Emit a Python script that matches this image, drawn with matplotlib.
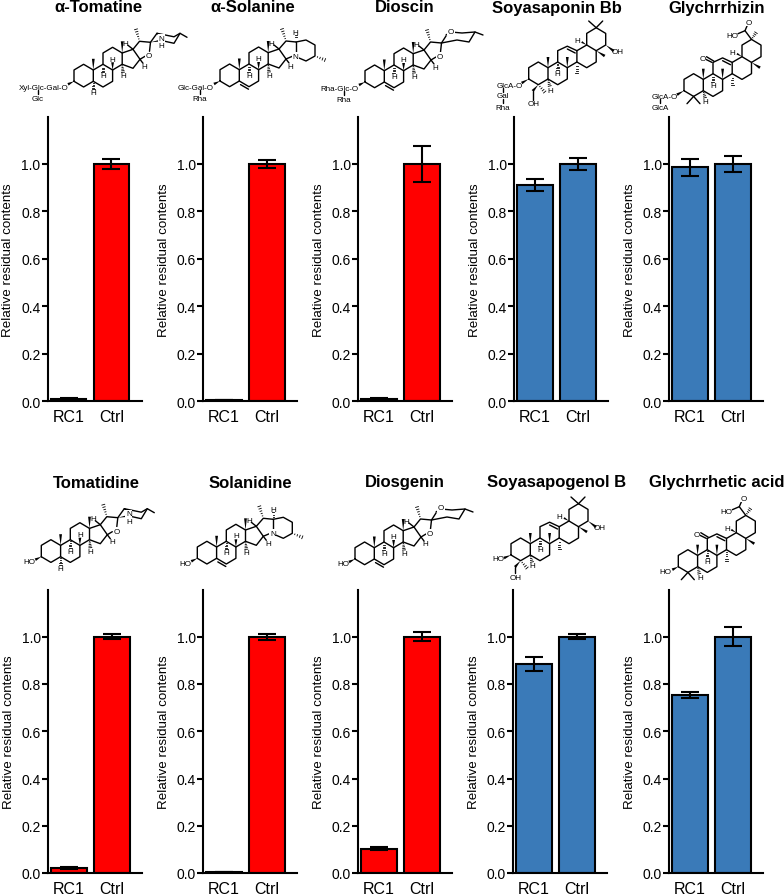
#!/usr/bin/env python
import matplotlib
matplotlib.use('Agg')
import matplotlib.pyplot as plt
from matplotlib.patches import Polygon

plt.rcParams['font.family'] = ['Liberation Sans', 'DejaVu Sans']

W, H = 784, 895

### ------------------- Data -------------------
groups = ['RC1', 'Ctrl']
titles_top = ['α-Tomatine', 'α-Solanine', 'Dioscin', 'Soyasaponin Bb', 'Glychrrhizin']
titles_bot = ['Tomatidine', 'Solanidine', 'Diosgenin', 'Soyasapogenol B', 'Glychrrhetic acid']

rc1_top = [0.010, 0.005, 0.010, 0.910, 0.985]
rc1_top_err = [0.002, 0.001, 0.002, 0.025, 0.035]
ctrl_top = [1.0, 1.0, 1.0, 1.0, 1.0]
ctrl_top_err = [0.020, 0.018, 0.075, 0.025, 0.035]

rc1_bot = [0.022, 0.005, 0.103, 0.885, 0.755]
rc1_bot_err = [0.003, 0.001, 0.005, 0.030, 0.013]
ctrl_bot = [1.0, 1.0, 1.0, 1.0, 1.0]
ctrl_bot_err = [0.010, 0.012, 0.020, 0.010, 0.040]

yticks = [0.0, 0.2, 0.4, 0.6, 0.8, 1.0]
red = '#FF0000'
blue = '#3A7AB8'

### ------------------- Functions -------------------

def panel(left, top, bottom, title, title_x, title_y, vals, errs, color):
    ax = fig.add_axes([left / W, 1 - bottom / H, 94 / W, (bottom - top) / H])
    ax.bar([0, 1], vals, width=0.83, color=color, edgecolor='k', linewidth=1.5, zorder=2)
    ax.errorbar([0, 1], vals, yerr=errs, fmt='none', ecolor='k', elinewidth=1.5,
                capsize=6.8, capthick=1.5, zorder=3, clip_on=False)
    ax.set_xlim(-0.49, 1.70)
    ax.set_ylim(0, 1.2)
    ax.set_yticks(yticks)
    ax.set_yticklabels(['%.1f' % t for t in yticks], fontsize=10)
    ax.set_xticks([0, 1])
    ax.set_xticklabels(groups, fontsize=11.5)
    ax.tick_params(axis='x', length=0, pad=5.5)
    ax.tick_params(axis='y', length=4.5, width=1.5, pad=0.5)
    ax.spines['top'].set_visible(False)
    ax.spines['right'].set_visible(False)
    ax.spines['left'].set_linewidth(1.5)
    ax.spines['bottom'].set_linewidth(1.5)
    ax.set_ylabel('Relative residual contents', fontsize=9.6, labelpad=5)
    fig.text(title_x / W, 1 - title_y / H, title, fontsize=12, fontweight='bold',
             ha='center', va='center')
    return ax


def bonds(ox, oy, pts, closed=False):
    xs = [ox + p[0] for p in pts]
    ys = [oy + p[1] for p in pts]
    if closed:
        xs.append(xs[0])
        ys.append(ys[0])
    mol.plot(xs, ys, color='k', lw=1.0, solid_capstyle='round', solid_joinstyle='round')


def wedge(ox, oy, a, b, w=1.4):
    dx, dy = b[0] - a[0], b[1] - a[1]
    n = (dx ** 2 + dy ** 2) ** 0.5
    nx, ny = -dy / n * w, dx / n * w
    mol.add_patch(Polygon([(ox + a[0], oy + a[1]), (ox + b[0] + nx, oy + b[1] + ny),
                           (ox + b[0] - nx, oy + b[1] - ny)], color='k', lw=0))


def hashed(ox, oy, a, b, n=5, w=1.5):
    dx, dy = b[0] - a[0], b[1] - a[1]
    L = (dx ** 2 + dy ** 2) ** 0.5
    nx, ny = -dy / L, dx / L
    for i in range(1, n + 1):
        f = i / n
        cx, cy = a[0] + dx * f, a[1] + dy * f
        hw = w * f
        mol.plot([ox + cx + nx * hw, ox + cx - nx * hw], [oy + cy + ny * hw, oy + cy - ny * hw],
                 color='k', lw=0.6)


def atom(x, y, s, ha='center', bg=False):
    t = mol.text(x, y, s, fontsize=5.8, ha=ha, va='center', color='k', zorder=5)
    if bg:
        t.set_bbox(dict(facecolor='white', edgecolor='none', pad=0.4))


def steroid_core(ox, oy, c5h=False, ene=False):
    bonds(ox, oy, [(0, 0), (0, -11.3), (9.6, -17), (19.3, -11.3), (19.3, 0), (9.6, 5.7)], closed=True)
    bonds(ox, oy, [(19.3, 0), (29, 5.7), (38.6, 0), (38.6, -11.3), (29, -17), (19.3, -11.3)])
    bonds(ox, oy, [(29, -17), (29, -28.3), (38.6, -34), (48.2, -28.3), (48.2, -17), (38.6, -11.3)])
    bonds(ox, oy, [(48.2, -17), (59, -13), (66, -22), (59, -32), (48.2, -28.3)])
    wedge(ox, oy, (19.3, -11.3), (19.3, -22.5))
    wedge(ox, oy, (48.2, -28.3), (48.2, -40))
    hashed(ox, oy, (29, -17), (29, -9))
    atom(ox + 29, oy - 5.5, 'H')
    wedge(ox, oy, (38.6, -11.3), (38.6, -19))
    atom(ox + 38.6, oy - 22.3, 'H')
    hashed(ox, oy, (48.2, -17), (49, -9))
    atom(ox + 49.3, oy - 5.5, 'H')
    bonds(ox, oy, [(59, -32), (54, -36)])
    atom(ox + 51.5, oy - 38, 'H')
    bonds(ox, oy, [(66, -22), (69, -18)])
    atom(ox + 70.5, oy - 15, 'H')
    if c5h:
        hashed(ox, oy, (19.3, 0), (19.3, 8))
        atom(ox + 19.3, oy + 11.5, 'H')
    if ene:
        bonds(ox, oy, [(20.5, 3.6), (28.5, 8.2)])


def spiro_common(ox, oy):
    bonds(ox, oy, [(59, -32), (65.5, -40), (76.5, -39), (75.5, -30)])
    bonds(ox, oy, [(66, -22), (71, -25)])
    atom(ox + 75, oy - 25.7, 'O', bg=True)
    hashed(ox, oy, (65.5, -40), (62, -52))


def tomatine_tail(ox, oy):
    spiro_common(ox, oy)
    bonds(ox, oy, [(76.5, -39), (83, -48), (100, -44.5), (106, -48), (113, -44)])
    bonds(ox, oy, [(83, -48), (88, -45)])
    bonds(ox, oy, [(106, -48), (100, -38), (91, -40)])
    wedge(ox, oy, (76.5, -39), (85, -40.5), w=0.8)
    atom(ox + 87.5, oy - 43, 'N', bg=True)
    atom(ox + 87.5, oy - 35.5, 'H')


def dioscin_tail(ox, oy):
    spiro_common(ox, oy)
    bonds(ox, oy, [(81, -47), (86, -50), (97, -49), (110, -50), (118, -47)])
    bonds(ox, oy, [(76.5, -39), (81, -46)])
    bonds(ox, oy, [(110, -50), (104, -40), (92, -42), (76.5, -39)])
    atom(ox + 86, oy - 51, 'O', bg=True)


def solanine_tail(ox, oy):
    bonds(ox, oy, [(59, -32), (66, -40), (76, -39)])
    hashed(ox, oy, (66, -40), (62, -52))
    bonds(ox, oy, [(66, -22), (73, -25)])
    bonds(ox, oy, [(76, -39), (76, -29)])
    bonds(ox, oy, [(76, -39), (86, -41), (95, -36), (95, -25), (86, -20), (79, -23)])
    hashed(ox, oy, (95, -25), (105, -21), n=4)
    hashed(ox, oy, (76, -39), (76, -46), n=3, w=1)
    atom(ox + 75.5, oy - 49, 'H')
    atom(ox + 75.5, oy - 25, 'N', bg=True)


def triterpene_core(ox, oy):
    bonds(ox, oy, [(0, 0), (0, -11.3), (9.6, -17), (19.3, -11.3), (19.3, 0), (9.6, 5.7)], closed=True)
    bonds(ox, oy, [(19.3, 0), (29, 5.7), (38.6, 0), (38.6, -11.3), (29, -17), (19.3, -11.3)])
    bonds(ox, oy, [(29, -17), (29, -28.3), (38.6, -32.8), (48.2, -28.3), (48.2, -17), (38.6, -11.3)])
    bonds(ox, oy, [(48.2, -17), (58, -11.3), (67.5, -17), (67.5, -28.3), (58, -34), (48.2, -28.3)])
    bonds(ox, oy, [(58, -34), (58, -45.6), (67.5, -51.3), (77, -45.6), (77, -34), (67.5, -28.3)])
    bonds(ox, oy, [(38.6, -30), (46.5, -26)])
    wedge(ox, oy, (19.3, -11.3), (19.3, -22))
    wedge(ox, oy, (38.6, -11.3), (38.6, -22))
    hashed(ox, oy, (48.2, -17), (48.2, -6))
    hashed(ox, oy, (29, -17), (29, -9))
    atom(ox + 29, oy - 5.5, 'H')
    wedge(ox, oy, (67.5, -28.3), (76, -23))
    wedge(ox, oy, (58, -34), (53, -37), w=1)
    atom(ox + 48.5, oy - 38.5, 'H')
    hashed(ox, oy, (19.3, 0), (21, 7), n=4)
    atom(ox + 21.5, oy + 11, 'H')


### ------------------- Plot -------------------
fig = plt.figure(figsize=(W / 100, H / 100), dpi=100)

lefts_top = [47.5, 203, 358, 514, 669]
lefts_bot = [48, 203, 358, 513, 669]
titles_x_top = [98, 253, 405, 557, 717]
titles_x_bot = [96, 250, 405, 557, 717]
colors = [red, red, red, blue, blue]

for i in range(5):
    panel(lefts_top[i], 117.5, 402, titles_top[i], titles_x_top[i], 8,
          [rc1_top[i], ctrl_top[i]], [rc1_top_err[i], ctrl_top_err[i]], colors[i])
    panel(lefts_bot[i], 590.5, 874, titles_bot[i], titles_x_bot[i], 483,
          [rc1_bot[i], ctrl_bot[i]], [rc1_bot_err[i], ctrl_bot_err[i]], colors[i])

# overlay in pixel units for the structures
mol = fig.add_axes([0, 0, 1, 1], facecolor='none')
mol.set_xlim(0, W)
mol.set_ylim(H, 0)
mol.axis('off')

# top row
ox, oy = 74, 82.3
steroid_core(ox, oy, c5h=True)
tomatine_tail(ox, oy)
wedge(ox, oy, (0, 0), (-6, 3))
atom(19, 88, 'Xyl-Glc-Gal-O', ha='left')
bonds(38, 91, [(0, 0), (0, 4)])
atom(38, 99.5, 'Glc')

ox, oy = 220, 82
steroid_core(ox, oy, ene=True)
solanine_tail(ox, oy)
wedge(ox, oy, (0, 0), (-6, 3))
atom(178, 88, 'Glc-Gal-O', ha='left')
bonds(200, 91, [(0, 0), (0, 4)])
atom(200, 99.5, 'Rha')

ox, oy = 365, 83
steroid_core(ox, oy, ene=True)
dioscin_tail(ox, oy)
wedge(ox, oy, (0, 0), (-6, 3))
atom(320, 89, 'Rha-Glc-O', ha='left')
bonds(344, 92, [(0, 0), (0, 4)])
atom(344, 100.5, 'Rha')

ox, oy = 528.7, 80
triterpene_core(ox, oy)
bonds(ox, oy, [(67.5, -51.3), (60, -58)])
bonds(ox, oy, [(67.5, -51.3), (74, -58)])
wedge(ox, oy, (77, -34), (85, -28))
atom(ox + 89, oy - 28, 'OH')
wedge(ox, oy, (9.6, 5.7), (4, 12))
bonds(ox, oy, [(4, 12), (4, 21)])
atom(ox + 5, oy + 24.5, 'OH')
hashed(ox, oy, (9.6, 5.7), (16, 13), n=4)
wedge(ox, oy, (0, 0), (-7, 4))
atom(497, 86, 'GlcA-O', ha='left')
bonds(503, 89, [(0, 0), (0, 3.5)])
atom(503, 96.5, 'Gal')
bonds(503, 100, [(0, 0), (0, 3.5)])
atom(503, 108, 'Rha')

ox, oy = 684, 91.7
triterpene_core(ox, oy)
bonds(ox, oy, [(28, -28.3), (20.5, -32)])
bonds(ox, oy, [(30, -29.5), (22.5, -34)])
atom(ox + 18.5, oy - 32.5, 'O', bg=True)
bonds(ox, oy, [(67.5, -51.3), (61, -60), (64, -67)])
atom(ox + 65, oy - 68.5, 'O', bg=True)
bonds(ox, oy, [(61, -60), (54, -57)])
atom(ox + 48, oy - 55.5, 'HO')
hashed(ox, oy, (67.5, -51.3), (72, -58), n=4)
bonds(ox, oy, [(9.6, 5.7), (3, 13)])
bonds(ox, oy, [(9.6, 5.7), (16, 13)])
wedge(ox, oy, (0, 0), (-7, 4))
atom(652, 97, 'GlcA-O', ha='left')
bonds(660, 100, [(0, 0), (0, 3.5)])
atom(660, 108, 'GlcA')

# bottom row
ox, oy = 41.3, 557.7
steroid_core(ox, oy, c5h=True)
tomatine_tail(ox, oy)
wedge(ox, oy, (0, 0), (-6, 3))
atom(ox - 12, oy + 5, 'HO')

ox, oy = 197.3, 559.3
steroid_core(ox, oy, ene=True)
solanine_tail(ox, oy)
wedge(ox, oy, (0, 0), (-6, 3))
atom(ox - 12, oy + 5, 'HO')

ox, oy = 355, 560
steroid_core(ox, oy, ene=True)
dioscin_tail(ox, oy)
wedge(ox, oy, (0, 0), (-6, 3))
atom(ox - 12, oy + 5, 'HO')

ox, oy = 511, 556
triterpene_core(ox, oy)
bonds(ox, oy, [(67.5, -51.3), (60, -58)])
bonds(ox, oy, [(67.5, -51.3), (74, -58)])
wedge(ox, oy, (77, -34), (85, -28))
atom(ox + 89, oy - 28, 'OH')
wedge(ox, oy, (9.6, 5.7), (4, 12))
bonds(ox, oy, [(4, 12), (4, 18)])
atom(ox + 5, oy + 22, 'OH')
hashed(ox, oy, (9.6, 5.7), (16, 13), n=4)
wedge(ox, oy, (0, 0), (-7, 3))
atom(ox - 13, oy + 3.5, 'HO')

ox, oy = 678.3, 567.7
triterpene_core(ox, oy)
bonds(ox, oy, [(28, -28.3), (20.5, -32)])
bonds(ox, oy, [(30, -29.5), (22.5, -34)])
atom(ox + 18.5, oy - 32.5, 'O', bg=True)
bonds(ox, oy, [(67.5, -51.3), (61, -60), (64, -67)])
atom(ox + 65, oy - 68.5, 'O', bg=True)
bonds(ox, oy, [(61, -60), (54, -57)])
atom(ox + 48, oy - 55.5, 'HO')
hashed(ox, oy, (67.5, -51.3), (72, -58), n=4)
bonds(ox, oy, [(9.6, 5.7), (3, 13)])
bonds(ox, oy, [(9.6, 5.7), (16, 13)])
wedge(ox, oy, (0, 0), (-6, 3))
atom(ox - 13, oy + 5, 'HO')

plt.savefig('out.png', dpi=100)
